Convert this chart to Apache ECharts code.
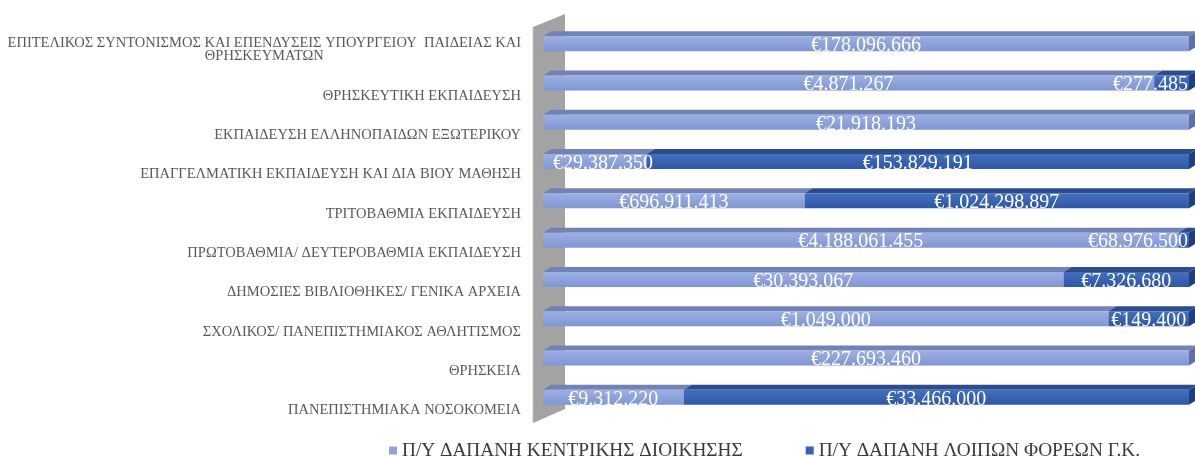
<!DOCTYPE html>
<html><head><meta charset="utf-8">
<script src="https://cdn.jsdelivr.net/npm/echarts@6/dist/echarts.min.js"></script>
<style>html,body{margin:0;padding:0;background:#fff;overflow:hidden}#c{width:1195px;height:456px}</style>
</head><body><div id="c"></div>
<script>
const categories = [
  'ΕΠΙΤΕΛΙΚΟΣ ΣΥΝΤΟΝΙΣΜΟΣ ΚΑΙ ΕΠΕΝΔΥΣΕΙΣ ΥΠΟΥΡΓΕΙΟΥ  ΠΑΙΔΕΙΑΣ ΚΑΙ\nΘΡΗΣΚΕΥΜΑΤΩΝ',
  'ΘΡΗΣΚΕΥΤΙΚΗ ΕΚΠΑΙΔΕΥΣΗ',
  'ΕΚΠΑΙΔΕΥΣΗ ΕΛΛΗΝΟΠΑΙΔΩΝ ΕΞΩΤΕΡΙΚΟΥ',
  'ΕΠΑΓΓΕΛΜΑΤΙΚΗ ΕΚΠΑΙΔΕΥΣΗ ΚΑΙ ΔΙΑ ΒΙΟΥ ΜΑΘΗΣΗ',
  'ΤΡΙΤΟΒΑΘΜΙΑ ΕΚΠΑΙΔΕΥΣΗ',
  'ΠΡΩΤΟΒΑΘΜΙΑ/ ΔΕΥΤΕΡΟΒΑΘΜΙΑ ΕΚΠΑΙΔΕΥΣΗ',
  'ΔΗΜΟΣΙΕΣ ΒΙΒΛΙΟΘΗΚΕΣ/ ΓΕΝΙΚΑ ΑΡΧΕΙΑ',
  'ΣΧΟΛΙΚΟΣ/ ΠΑΝΕΠΙΣΤΗΜΙΑΚΟΣ ΑΘΛΗΤΙΣΜΟΣ',
  'ΘΡΗΣΚΕΙΑ',
  'ΠΑΝΕΠΙΣΤΗΜΙΑΚΑ ΝΟΣΟΚΟΜΕΙΑ'
];
const centralValues = [178096666, 4871267, 21918193, 29387350, 696911413, 4188061455, 30393067, 1049000, 227693460, 9312220];
const otherValues   = [0, 277485, 0, 153829191, 1024298897, 68976500, 7326680, 149400, 0, 33466000];
const seriesNames = ['Π/Υ ΔΑΠΑΝΗ ΚΕΝΤΡΙΚΗΣ ΔΙΟΙΚΗΣΗΣ', 'Π/Υ ΔΑΠΑΝΗ ΛΟΙΠΩΝ ΦΟΡΕΩΝ Γ.Κ.'];

function fmtEuro(v) { return '€' + String(v).replace(/\B(?=(\d{3})+(?!\d))/g, '.'); }

const LABEL_FONT = '20px "Liberation Serif"';
const mctx = document.createElement('canvas').getContext('2d');
mctx.font = LABEL_FONT;

const palettes = [
  { top: '#7282B4', side: '#6070A0', grad: ['#9CB0E4', '#8096D2'], legend: '#8EA5DC' },
  { top: '#2D4C8C', side: '#203E78', grad: ['#4370BE', '#2E57A5'], legend: '#3B62B2' }
];

function makeRender(pal) {
  return function (params, api) {
    const start = api.value(0), end = api.value(1), idx = api.value(2), raw = api.value(3);
    if (!(end > start) || !raw) return null;
    const p0 = api.coord([start, idx]);
    const p1 = api.coord([end, idx]);
    const pMax = api.coord([100, idx]);
    const pMin = api.coord([0, idx]);
    const yc = p0[1];
    const H = 15, DX = 8, DY = 5;
    const yt = yc - H / 2, yb = yc + H / 2;
    const x0 = p0[0], x1 = p1[0];
    const children = [
      { type: 'polygon', shape: { points: [[x0, yt], [x1, yt], [x1 + DX, yt - DY], [x0 + DX, yt - DY]] }, style: { fill: pal.top } },
      { type: 'rect', shape: { x: x0, y: yt, width: x1 - x0, height: H },
        style: { fill: new echarts.graphic.LinearGradient(0, 0, 0, 1, [{ offset: 0, color: pal.grad[0] }, { offset: 1, color: pal.grad[1] }]) } }
    ];
    if (end >= 99.999) {
      children.push({ type: 'polygon', shape: { points: [[x1, yt], [x1 + DX, yt - DY], [x1 + DX, yb - DY], [x1, yb]] }, style: { fill: pal.side } });
    }
    const txt = fmtEuro(raw);
    const w = mctx.measureText(txt).width;
    let cx = (x0 + x1) / 2;
    if (cx + w / 2 > pMax[0] - 1) cx = pMax[0] - 1 - w / 2;
    if (cx - w / 2 < pMin[0] + 10) cx = pMin[0] + 10 + w / 2;
    children.push({ type: 'text', z2: 10, style: { text: txt, x: cx, y: yc + 2, align: 'center', verticalAlign: 'middle', fill: '#ffffff', font: LABEL_FONT } });
    return { type: 'group', children: children };
  };
}

const shares = categories.map((c, i) => {
  const t = centralValues[i] + otherValues[i];
  return centralValues[i] / t * 100;
});
const data1 = categories.map((c, i) => [0, shares[i], i, centralValues[i]]);
const data2 = categories.map((c, i) => [shares[i], 100, i, otherValues[i]]);

const GRID = { left: 543, right: 6, top: 24, bottom: 39 };

const chart = echarts.init(document.getElementById('c'), null, { renderer: 'canvas' });
chart.setOption({
  animation: false,
  backgroundColor: '#ffffff',
  grid: GRID,
  xAxis: { type: 'value', min: 0, max: 100, show: false },
  yAxis: {
    type: 'category', inverse: true, data: categories,
    axisLine: { show: false }, axisTick: { show: false }, splitLine: { show: false },
    axisLabel: {
      margin: 22, color: '#595959', fontFamily: 'Liberation Serif', fontSize: 14.5, lineHeight: 13,
      showMinLabel: true, showMaxLabel: true, hideOverlap: false, interval: 0,
      formatter: function (v) {
        const parts = v.split('\n');
        if (parts.length > 1) return '\n{a|' + parts[0] + '}\n{c|' + parts[1] + '}';
        return '\n\n{a|' + v + '}';
      },
      rich: {
        a: { color: '#595959', fontFamily: 'Liberation Serif', fontSize: 14.5, lineHeight: 13 },
        c: { color: '#595959', fontFamily: 'Liberation Serif', fontSize: 14.5, lineHeight: 13, align: 'center' }
      }
    }
  },
  legend: {
    left: 384, top: 436, itemWidth: 8, itemHeight: 8, itemGap: 63, icon: 'rect',
    textStyle: { fontFamily: 'Liberation Serif', fontSize: 19.3, color: '#3A3A3A' },
    data: seriesNames
  },
  series: [
    { type: 'custom', name: seriesNames[0], renderItem: makeRender(palettes[0]), itemStyle: { color: palettes[0].legend },
      encode: { x: [0, 1], y: 2 }, data: data1 },
    { type: 'custom', name: seriesNames[1], renderItem: makeRender(palettes[1]), itemStyle: { color: palettes[1].legend },
      encode: { x: [0, 1], y: 2 }, data: data2 }
  ]
});

// Left 3D wall behind the bars
const x0px = chart.convertToPixel({ xAxisIndex: 0 }, 0);
const gTop = GRID.top, gBot = 456 - GRID.bottom;
chart.setOption({
  graphic: [{
    type: 'polygon', z: -10,
    shape: { points: [[x0px - 10, gTop + 3], [x0px + 22, gTop - 10], [x0px + 22, gBot - 8], [x0px - 10, gBot + 6]] },
    style: { fill: '#A3A3A3' }
  }, {
    type: 'line', z: -9,
    shape: { x1: x0px - 10, y1: gTop + 3, x2: x0px - 10, y2: gBot + 6 },
    style: { stroke: '#C8C8C8', lineWidth: 1 }
  }]
});
</script>
</body></html>
